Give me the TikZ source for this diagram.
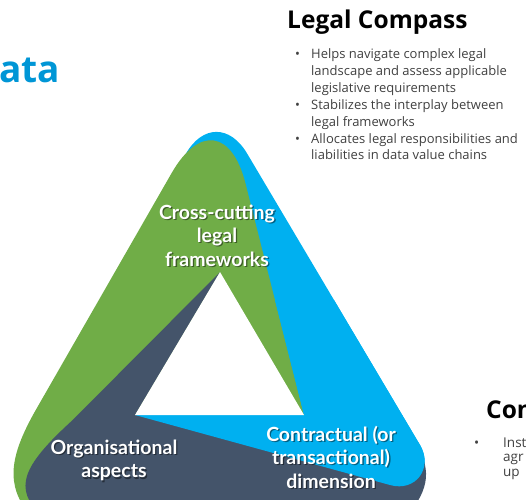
\documentclass[tikz,border=0pt]{standalone}
\usepackage{fontspec}
\setmainfont{Open Sans}
\newfontfamily\labelfont{Lato}
\definecolor{greenc}{RGB}{112,173,71}
\definecolor{bluec}{RGB}{0,176,240}
\definecolor{navyc}{RGB}{68,84,106}
\definecolor{titleblue}{RGB}{0,150,214}
\definecolor{bodytext}{RGB}{64,64,64}
\tikzset{
  lbl/.style={font=\labelfont\bfseries\fontsize{19.5}{23.5}\selectfont, align=center, text=white, inner sep=0pt},
  lblshadow/.style={lbl, text=black, text opacity=0.45},
  heading/.style={font=\bfseries\fontsize{24.5}{29}\selectfont, text=black, anchor=base west, inner sep=0pt},
  bullets/.style={font=\fontsize{13}{16.9}\selectfont, text=bodytext, anchor=base west, inner sep=0pt}
}
\begin{document}
\begin{tikzpicture}[x=1pt,y=-1pt]
\useasboundingbox (0,0) rectangle (526,499);
\clip (0,0) rectangle (526,499);
% blue band (full, lies under green at the top)
\fill[bluec] (135,415) -- (175,200) -- (185.7,154) .. controls (202.4,124.7) and (229.9,124.5) .. (247.1,153.5)
  -- (420,445) .. controls (433.6,468.2) and (415.6,492.2) .. (390,485) -- cycle;
% green band
\fill[greenc] (171.6,173.1) -- (34.6,412) .. controls (10,456) and (5,485) .. (30,515) -- (100,515)
  -- (135,415) -- (304,415) -- (245.4,183.1) .. controls (231.8,130.1) and (198.8,125.7) .. (171.6,173.1) -- cycle;
% navy band
\fill[navyc] (220,272) -- (72.7,420) .. controls (20,468) and (15,488) .. (40,515) -- (408,515)
  .. controls (428,490) and (435,468) .. (410,436) -- (135,415) -- cycle;
% blue band, lower part over the navy end
\fill[bluec] (135,415) -- (304,415) -- (274.9,300) -- (334,300) -- (420,445)
  .. controls (433.6,468.2) and (415.6,492.2) .. (390,485) -- cycle;
% inner hole
\fill[white] (220,272) -- (135,415) -- (304,415) -- cycle;

% labels
\node[lblshadow] (cc-s) at (218.3,236.8) {Cross-cutting\\legal\\frameworks};
\node[lbl] (cc) at (217,235.5) {Cross-cutting\\legal\\frameworks};
\node[lblshadow] (org-s) at (115.3,461.8) {Organisational\\aspects};
\node[lbl] (org) at (114,460.5) {Organisational\\aspects};
\node[lblshadow] (con-s) at (332.3,458.3) {Contractual (or\\transactional)\\dimension};
\node[lbl] (con) at (331,457) {Contractual (or\\transactional)\\dimension};

% texts
\node[font=\bfseries\fontsize{37}{44}\selectfont, text=titleblue, anchor=base west, inner sep=0pt] (ata) at (-1,82) {ata};
\node[heading] (lc) at (287,28) {Legal Compass};
\node[bullets] (lcb) at (295,58.5) {\begin{tabular}[t]{@{}l@{}l@{}}
\makebox[16pt][l]{•} & Helps navigate complex legal\\
 & landscape and assess applicable\\
 & legislative requirements\\
\makebox[16pt][l]{•} & Stabilizes the interplay between\\
 & legal frameworks\\
\makebox[16pt][l]{•} & Allocates legal responsibilities and\\
 & liabilities in data value chains
\end{tabular}};
\node[heading] (ct) at (486,418) {Con};
\node[bullets, font=\fontsize{13.5}{14.5}\selectfont] (ctb) at (474,447) {\begin{tabular}[t]{@{}l@{}l@{}}
\makebox[29pt][l]{•} & Inst\\
 & agr\\
 & up
\end{tabular}};
\end{tikzpicture}
\end{document}
